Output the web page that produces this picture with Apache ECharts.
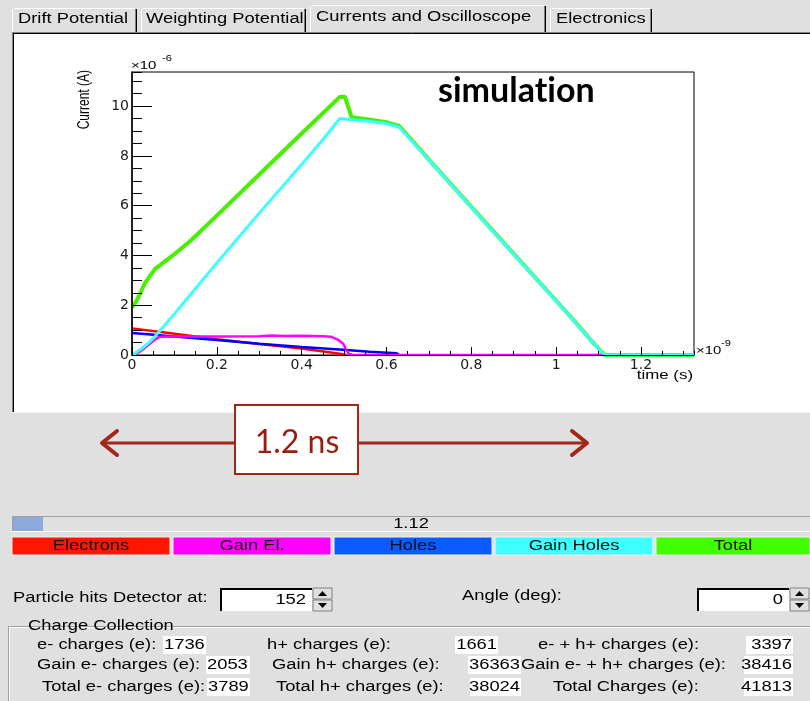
<!DOCTYPE html>
<html>
<head>
<meta charset="utf-8">
<script src="https://cdn.jsdelivr.net/npm/echarts@6/dist/echarts.min.js"></script>
<style>
  html, body { margin: 0; padding: 0; background: #e0e0e0; }
  #chart { width: 810px; height: 701px; }
</style>
</head>
<body>
<div id="chart"></div>
<script>
// ---- data: time in ns, current in units of 1e-6 A ----
const xTickStep = 0.2;
const xMinorStep = 0.05;
const yTickStep = 2;
const yMinorStep = 0.5;
const timeMax = 1.325;
const currentMax = 11.37;

const electrons = [[0, 1.07], [0.1, 0.85], [0.2, 0.63], [0.3, 0.44], [0.4, 0.26], [0.49, 0.05], [0.505, 0]];
const holes = [[0, 0.88], [0.03, 0.84], [0.1, 0.74], [0.2, 0.6], [0.3, 0.45], [0.4, 0.32], [0.506, 0.2],
               [0.56, 0.13], [0.624, 0.07], [0.63, 0]];
const gainElectrons = [[0, 0], [0.02, 0.15], [0.04, 0.42], [0.055, 0.63], [0.065, 0.73], [0.1, 0.74],
                       [0.2, 0.74], [0.3, 0.75], [0.33, 0.78], [0.36, 0.76], [0.4, 0.77], [0.45, 0.75],
                       [0.47, 0.73], [0.485, 0.62], [0.498, 0.45], [0.51, 0.06], [0.52, 0], [1.115, 0]];
const gainHoles = [[0, 0], [0.02, 0.22], [0.04, 0.5], [0.054, 0.74], [0.1, 1.65], [0.2, 3.7], [0.3, 5.7],
                   [0.4, 7.65], [0.45, 8.65], [0.49, 9.5], [0.52, 9.45], [0.55, 9.4], [0.6, 9.3],
                   [0.63, 9.15], [0.7, 7.83], [0.8, 5.94], [0.9, 4.05], [1.0, 2.17], [1.05, 1.22],
                   [1.08, 0.62], [1.1, 0.25], [1.115, 0], [1.325, 0]];
const total = [[0, 1.9], [0.01, 2.15], [0.02, 2.5], [0.031, 2.9], [0.054, 3.45], [0.1, 4.05],
               [0.14, 4.62], [0.2, 5.6], [0.3, 7.25], [0.4, 8.9], [0.49, 10.37], [0.502, 10.38],
               [0.518, 9.55], [0.55, 9.48], [0.6, 9.35], [0.63, 9.2], [0.7, 7.85], [0.8, 5.95],
               [0.9, 4.06], [1.0, 2.18], [1.05, 1.23], [1.08, 0.63], [1.1, 0.26], [1.115, 0], [1.325, 0]];

const tabLabels = ['Drift Potential', 'Weighting Potential', 'Currents and Oscilloscope', 'Electronics'];
const legendLabels = ['Electrons', 'Gain El.', 'Holes', 'Gain Holes', 'Total'];
const legendColors = ['#ff1500', '#ff00ff', '#0b5cff', '#40ffff', '#40ff00'];
const progressValue = '1.12';
const hitPosition = 152;
const angleDeg = 0;
const chargeLabels = [
  ['e- charges (e):', 'h+ charges (e):', 'e- + h+ charges (e):'],
  ['Gain e- charges (e):', 'Gain h+ charges (e):', 'Gain e- + h+ charges (e):'],
  ['Total e- charges (e):', 'Total h+ charges (e):', 'Total Charges (e):']
];
const chargeValues = [
  [1736, 1661, 3397],
  [2053, 36363, 38416],
  [3789, 38024, 41813]
];

// ---- layout helpers for the surrounding GUI panel ----
const GRAY = '#e0e0e0';
const SX = 1.31;
const gf = s => s + 'px "Liberation Sans", Arial, sans-serif';

function txt(x, y, text, o) {
  o = o || {};
  return {
    type: 'text', x: x, y: y, z: 20,
    scaleX: o.sx !== undefined ? o.sx : SX,
    scaleY: o.sy !== undefined ? o.sy : 1,
    rotation: o.rot || 0,
    style: {
      text: text, font: o.font || gf(14), fill: o.fill || '#000',
      textAlign: o.align || 'left', textVerticalAlign: o.valign || 'middle'
    }
  };
}
function rect(x, y, w, h, fill, stroke, lw) {
  return { type: 'rect', z: 5, shape: { x: x, y: y, width: w, height: h },
           style: { fill: fill, stroke: stroke || null, lineWidth: lw || 0 } };
}
function ln(x1, y1, x2, y2, color, lw) {
  return { type: 'line', z: 6, shape: { x1: x1, y1: y1, x2: x2, y2: y2 },
           style: { stroke: color, lineWidth: lw || 1 } };
}
function poly(points, fill) {
  return { type: 'polygon', z: 7, shape: { points: points }, style: { fill: fill } };
}

const g = [];

// background regions around the white drawing pad
g.push(rect(0, 0, 810, 32, GRAY));
g.push(rect(0, 0, 12, 701, GRAY));
g.push(rect(0, 413, 810, 288, GRAY));

// tabs
const tabBoxes = [[12, 137], [141, 306], [310, 546], [550, 652]];
const tabTextX = [18, 146, 316, 556];
tabBoxes.forEach(function (b, i) {
  const sel = i === 2;
  const top = sel ? 5 : 8;
  g.push(ln(b[0] + 2, top + 0.5, b[1] - 2, top + 0.5, '#ffffff'));
  g.push(ln(b[0] + 0.5, top + 1, b[0] + 0.5, 32, '#ffffff'));
  g.push(ln(b[1] - 1.5, top + 1, b[1] - 1.5, 32, '#808080'));
  g.push(ln(b[1] - 0.5, top + 1, b[1] - 0.5, 32, '#000000'));
  g.push(txt(tabTextX[i], sel ? 17 : 19, tabLabels[i]));
});

// pad border
g.push(ln(12, 32.5, 810, 32.5, '#808080'));
g.push(ln(13, 33.5, 810, 33.5, '#000000'));
g.push(ln(12.5, 32, 12.5, 413, '#808080'));
g.push(ln(13.5, 33, 13.5, 413, '#000000'));
g.push(ln(12, 412.5, 810, 412.5, '#f4f4f4'));

// axis decorations
g.push(txt(85, 70, 'Current (A)', { rot: Math.PI / 2, sx: 1, sy: 1.3, font: gf(12), align: 'right' }));
g.push(txt(131, 66, '\u00d710', { font: gf(11.5), sx: 1.3 }));
g.push(txt(162, 59, '-6', { font: gf(8.5), sx: 1.3 }));
g.push(txt(696, 351, '\u00d710', { font: gf(11.5), sx: 1.3 }));
g.push(txt(721, 344, '-9', { font: gf(8.5), sx: 1.3 }));
g.push(txt(693, 376, 'time (s)', { font: gf(12.5), sx: 1.35, align: 'right' }));
// ZWNJ keeps "t" and "i" as separate glyphs
g.push(txt(438, 91, 'simulat\u200Cion', { font: 'bold 34px Lato, sans-serif', sx: 1 }));

// duration annotation
const AC = '#a3261a';
g.push({ type: 'line', z: 8, shape: { x1: 102, y1: 443, x2: 587, y2: 443 }, style: { stroke: AC, lineWidth: 3 } });
g.push({ type: 'polyline', z: 8, shape: { points: [[117, 431], [102, 443], [117, 455]] },
         style: { stroke: AC, lineWidth: 4, fill: null, lineCap: 'round', lineJoin: 'round' } });
g.push({ type: 'polyline', z: 8, shape: { points: [[572, 431], [587, 443], [572, 455]] },
         style: { stroke: AC, lineWidth: 4, fill: null, lineCap: 'round', lineJoin: 'round' } });
g.push({ type: 'rect', z: 9, shape: { x: 235, y: 405, width: 123, height: 69 },
         style: { fill: '#ffffff', stroke: AC, lineWidth: 2 } });
g.push(txt(297, 443, '1.2 ns', { font: '32px Lato, sans-serif', sx: 1, fill: '#9b1b0f', align: 'center' }));

// progress bar
g.push(ln(12, 516.5, 810, 516.5, '#a0a0a0'));
g.push(ln(12.5, 516, 12.5, 532, '#a0a0a0'));
g.push(ln(12, 531.5, 810, 531.5, '#ffffff'));
g.push(rect(13, 517, 30, 14, '#8eaadc'));
g.push(txt(411, 524, progressValue, { align: 'center' }));

// colour key
const keyX = [12, 173, 334, 495, 656];
legendLabels.forEach(function (lab, i) {
  const w = i === 4 ? 154 : 158;
  g.push(rect(keyX[i], 537, w, 18, legendColors[i], '#f2f2f2', 1));
  g.push(txt(keyX[i] + w / 2, 546, lab, { align: 'center', fill: '#111' }));
});

// spin boxes
function spinBox(x, y, w, value) {
  g.push(rect(x, y, w, 23, '#ffffff'));
  g.push({ type: 'polyline', z: 6, shape: { points: [[x + 1, y + 23], [x + 1, y + 1], [x + w, y + 1]] },
           style: { stroke: '#000', lineWidth: 2, fill: null } });
  g.push(txt(x + w - 6, y + 12, String(value), { align: 'right' }));
  const bx = x + w + 1;
  g.push(rect(bx, y, 19, 11, GRAY, '#808080', 1));
  g.push(rect(bx, y + 12, 19, 11, GRAY, '#808080', 1));
  g.push(poly([[bx + 5, y + 8], [bx + 14, y + 8], [bx + 9.5, y + 3]], '#000'));
  g.push(poly([[bx + 5, y + 15], [bx + 14, y + 15], [bx + 9.5, y + 20]], '#000'));
}
g.push(txt(13, 598, 'Particle hits Detector at:'));
spinBox(220, 588, 92, hitPosition);
g.push(txt(462, 596, 'Angle (deg):'));
spinBox(697, 588, 92, angleDeg);

// charge collection group
g.push(ln(8, 626.5, 810, 626.5, '#a0a0a0'));
g.push(ln(9, 627.5, 810, 627.5, '#ffffff'));
g.push(ln(8.5, 626, 8.5, 701, '#a0a0a0'));
g.push(ln(9.5, 627, 9.5, 701, '#ffffff'));
g.push(rect(23, 618, 156, 16, GRAY));
g.push(txt(28, 626, 'Charge Collection'));

const rowY = [645, 665, 687];
const labelX = [[37, 267, 538], [37, 272, 521], [42, 276, 553]];
// value field extents; the first column is left-aligned, the others right-aligned
const boxX = [[[163, 206], [455, 498], [746, 793]],
              [[206, 250], [468, 521], [744, 793]],
              [[207, 250], [470, 521], [744, 793]]];
chargeLabels.forEach(function (row, r) {
  row.forEach(function (lab, c) {
    g.push(txt(labelX[r][c], rowY[r], lab));
    const b = boxX[r][c];
    g.push(rect(b[0], rowY[r] - 9, b[1] - b[0], 18, '#ffffff'));
    if (c === 0) {
      g.push(txt(b[0] + 1, rowY[r], String(chargeValues[r][c])));
    } else {
      g.push(txt(b[1] - 1, rowY[r], String(chargeValues[r][c]), { align: 'right' }));
    }
  });
});

// ---- chart ----
const tickFont = { color: '#1a1a1a', fontFamily: 'DejaVu Sans', fontSize: 14 };
function lineSeries(name, data, color, width) {
  return { name: name, type: 'line', data: data, showSymbol: false, symbol: 'none',
           xAxisIndex: 0, yAxisIndex: 0, lineStyle: { color: color, width: width },
           itemStyle: { color: color }, emphasis: { disabled: true }, z: 3 };
}
function axisPair(isX) {
  const max = isX ? timeMax : currentMax;
  const pos = isX ? 'bottom' : 'left';
  return [
    { type: 'value', min: 0, max: max, interval: isX ? xTickStep : yTickStep, position: pos, z: 5,
      axisLine: { show: true, onZero: false, lineStyle: { color: '#000', width: isX ? 1 : 1.5 } },
      axisTick: { show: true, inside: true, length: isX ? 8 : 20, lineStyle: { color: '#000', width: 1 } },
      axisLabel: Object.assign({ show: true, margin: 3, showMaxLabel: false, showMinLabel: true }, tickFont),
      splitLine: { show: false } },
    { type: 'value', min: 0, max: max, interval: isX ? xMinorStep : yMinorStep, position: pos, z: 5,
      axisLine: { show: false, onZero: false },
      axisTick: { show: true, inside: true, length: isX ? 4 : 10, lineStyle: { color: '#000', width: 1 } },
      axisLabel: { show: false }, splitLine: { show: false } }
  ];
}

const option = {
  backgroundColor: '#ffffff',
  animation: false,
  grid: { left: 132, top: 72, width: 562, height: 283, show: true,
          borderColor: '#000', borderWidth: 1, backgroundColor: 'transparent' },
  xAxis: axisPair(true),
  yAxis: axisPair(false),
  series: [
    lineSeries('Total', total, '#46f000', 4),
    lineSeries('Electrons', electrons, '#ff0000', 2.5),
    lineSeries('Holes', holes, '#0000ff', 2.5),
    lineSeries('Gain El.', gainElectrons, '#ff00ff', 2.5),
    lineSeries('Gain Holes', gainHoles, '#3cffff', 3)
  ],
  graphic: { elements: g }
};

const chart = echarts.init(document.getElementById('chart'), null, { renderer: 'canvas' });
chart.setOption(option);
</script>
</body>
</html>
